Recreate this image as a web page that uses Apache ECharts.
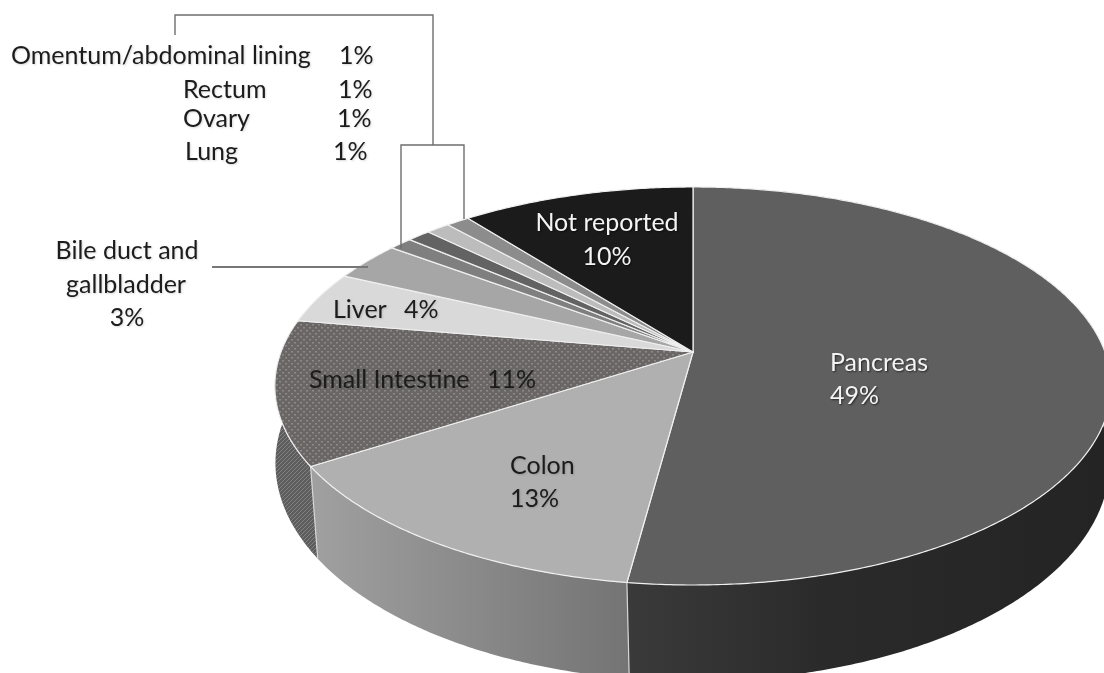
<!DOCTYPE html>
<html><head><meta charset="utf-8">
<style>html,body{margin:0;padding:0;background:#fff;overflow:hidden}#c{width:1104px;height:673px}</style>
<script src="https://cdn.jsdelivr.net/npm/echarts@6/dist/echarts.min.js"></script>
</head><body><div id="c"></div>
<script>
// --- data (clockwise from 12 o'clock) ---
var categories = ['Pancreas','Colon','Small Intestine','Liver','Bile duct and gallbladder','Lung','Ovary','Rectum','Omentum/abdominal lining','Not reported'];
var values = [49,13,11,4,3,1,1,1,1,10];

// --- styling ---
var topColors = ['#5f5f5f','#b0b0b0','#6e6a6a','#d9d9d9','#a6a6a6','#7f7f7f','#636363','#bcbcbc','#8c8c8c','#1b1b1b'];
var FONT = '25px Lato, "Noto Sans", sans-serif';
var DARK = '#1c1c1c', LIGHT = '#f4f4f4';

// --- label layout per category: [text piece, x, y, align] ; %v = value ---
var labelLayout = [
  [['Pancreas',830,363,'left'],['%v',830,396,'left']],
  [['Colon',510,466,'left'],['%v',510,499,'left']],
  [['Small Intestine',309,380,'left'],['%v',487,380,'left']],
  [['Liver',333,310,'left'],['%v',404,310,'left']],
  [['Bile duct and',127,251,'center'],['gallbladder',126,285,'center'],['%v',127,318,'center']],
  [['Lung',185,152,'left'],['%v',333,152,'left']],
  [['Ovary',183,119,'left'],['%v',337,119,'left']],
  [['Rectum',183,90,'left'],['%v',338,90,'left']],
  [['Omentum/abdominal lining',11,56,'left'],['%v',339,56,'left']],
  [['Not reported',607,223,'center'],['%v',607,257,'center']]
];
var lightLabels = {0:1, 9:1};

// --- perspective disc geometry ---
var total = values.reduce(function(a,b){return a+b;},0);
var topDisc = {cx:693, cy:352, R:412, S:193.2, k:0.1708};
var lowDisc = {cx:692.5, cy:434.7, R:413.5, S:214.3, k:0.13};
function rim(d, cum){
  var t = cum/total*2*Math.PI, u = Math.sin(t), v = -Math.cos(t), w = 1-d.k*v;
  return [d.cx + d.R*u/w, d.cy + d.S*v/w];
}
function arc(d, a, b){
  var n = Math.max(4, Math.ceil((b-a)/total*720)), pts = [];
  for (var i=0;i<=n;i++) pts.push(rim(d, a+(b-a)*i/n));
  return pts;
}
function dotPattern(base, dot, step){
  var c = document.createElement('canvas'); c.width = step*2; c.height = step*2;
  var g = c.getContext('2d'); g.fillStyle = base; g.fillRect(0,0,c.width,c.height);
  g.fillStyle = dot;
  g.fillRect(0,0,2,1.5); g.fillRect(step,step,2,1.5);
  return {image:c, repeat:'repeat'};
}
function hatchPattern(base, line){
  var c = document.createElement('canvas'); c.width = 4; c.height = 4;
  var g = c.getContext('2d'); g.fillStyle = base; g.fillRect(0,0,4,4);
  g.strokeStyle = line; g.lineWidth = 1; g.beginPath(); g.moveTo(0,4); g.lineTo(4,0); g.stroke();
  return {image:c, repeat:'repeat'};
}
var G = echarts.graphic.LinearGradient;
function sideGrad(x0,x1,stops){ return new G(x0,0,x1,0,stops,true); }
var topFill = topColors.slice();
topFill[2] = dotPattern('#6a6666','#8d8989',3);
var sideFill = {
  0: sideGrad(628,1104,[{offset:0,color:'#3a3a3a'},{offset:0.42,color:'#2a2a2a'},{offset:1,color:'#242424'}]),
  1: sideGrad(312,628,[{offset:0,color:'#a0a0a0'},{offset:0.5,color:'#8a8a8a'},{offset:1,color:'#747474'}]),
  2: hatchPattern('#5d5d5d','#828282')
};

function renderItem(params, api){
  var i = params.dataIndex, val = api.value(0), a = 0;
  for (var j=0;j<i;j++) a += values[j];
  var b = a + val, kids = [];
  if (sideFill[i]) {
    var up = arc(topDisc,a,b), lo = arc(lowDisc,a,b).reverse();
    kids.push({type:'polygon', z2:1, shape:{points:up.concat(lo)},
      style:{fill:sideFill[i], stroke:'none'}});
    if (i < 2) {
      var p = rim(topDisc,b), q = rim(lowDisc,b);
      kids.push({type:'line', z2:2, shape:{x1:p[0],y1:p[1],x2:q[0],y2:q[1]},
        style:{stroke:'#d6d6d6',lineWidth:1.2}});
    }
  }
  kids.push({type:'polygon', z2:3, shape:{points:[[topDisc.cx,topDisc.cy]].concat(arc(topDisc,a,b))},
    style:{fill:topFill[i], stroke:'#f0f0f0', lineWidth:1.2, lineJoin:'round'}});
  labelLayout[i].forEach(function(l){
    var light = lightLabels[i];
    kids.push({type:'text', z2:5, style:{
      text:l[0]==='%v' ? val+'%' : l[0], x:l[1], y:l[2], align:l[3], verticalAlign:'middle',
      font:FONT, fill:light?LIGHT:DARK,
      textShadowColor:light?'rgba(0,0,0,0.6)':'rgba(0,0,0,0.15)', textShadowBlur:2, textShadowOffsetX:1, textShadowOffsetY:1
    }});
  });
  return {type:'group', children:kids};
}

// leader lines anchored on the slices they point at
var lungEnd = rim(topDisc, 80.5), omentumEnd = rim(topDisc, 83.9);
var lineStyle = {stroke:'#6e6e6e', lineWidth:1.4, fill:'none'};
var leaders = [
  [[175,35],[175,15],[433,15],[433,145]],
  [[401,lungEnd[1]+5],[401,145],[464,145],[464,omentumEnd[1]]],
  [[212,267],[368,267]]
];

var chart = echarts.init(document.getElementById('c'), null, {renderer:'canvas'});
chart.setOption({
  animation:false,
  backgroundColor:'#ffffff',
  series:[{type:'custom', coordinateSystem:'none', silent:true, clip:false,
    data:values.map(function(v,i){return {name:categories[i], value:[v]};}),
    renderItem:renderItem}],
  graphic:leaders.map(function(pts,i){
    return {type:'polyline', z:10, silent:true, shape:{points:pts},
      style:Object.assign({},lineStyle, i===2?{lineWidth:2,stroke:'#777777'}:{})};
  })
});
</script></body></html>
